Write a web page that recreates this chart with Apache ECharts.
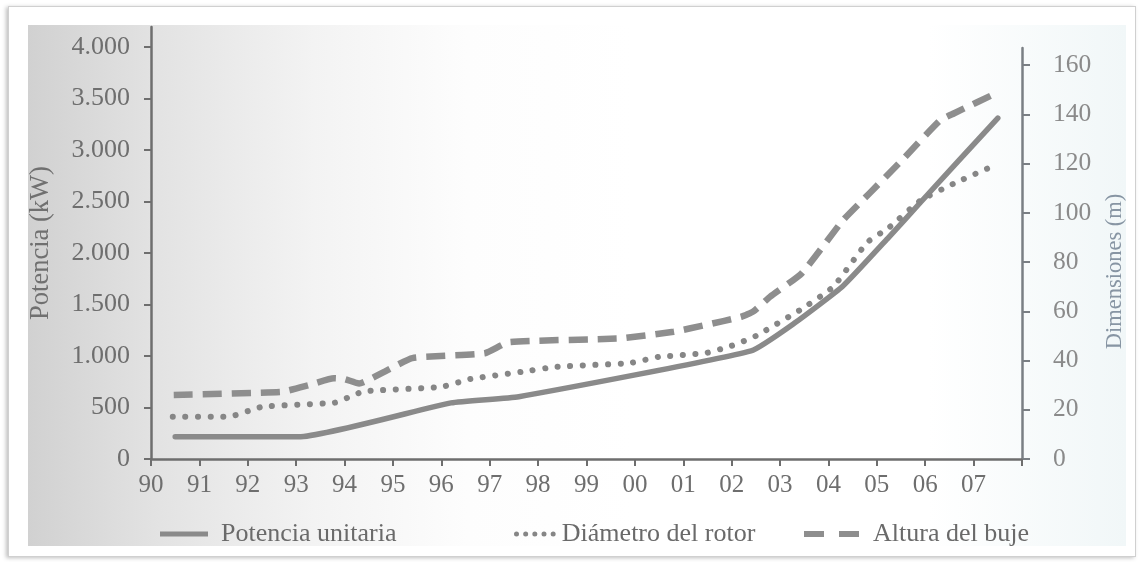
<!DOCTYPE html>
<html>
<head>
<meta charset="utf-8">
<script src="https://cdn.jsdelivr.net/npm/echarts@6/dist/echarts.min.js"></script>
<style>
  html, body { margin: 0; padding: 0; width: 1144px; height: 562px; background: #ffffff; overflow: hidden; }
  #frame { position: absolute; left: 8px; top: 6px; width: 1126px; height: 549px; border: 1px solid #d0d0d0; box-shadow: -2px 1px 4px rgba(0,0,0,0.25); background: #fff; }
  #page { position: absolute; left: 28px; top: 25px; width: 1098px; height: 521px;
          background: linear-gradient(90deg, #d1d1d1 0%, #e3e3e3 12%, #f3f3f3 26%, #fdfdfd 40%, #ffffff 55%, #ffffff 82%, #f1f7f8 100%); }
  #chart { position: absolute; left: 0; top: 0; width: 1144px; height: 562px; }
</style>
</head>
<body>
<div id="frame"></div>
<div id="page"></div>
<div id="chart"></div>
<script>
// Year tick labels (x axis positions 0..17)
const years = ['90','91','92','93','94','95','96','97','98','99','00','01','02','03','04','05','06','07'];

// Potencia unitaria (kW) — x positions in years since 1990
const potenciaX = [0.5, 3.05, 6.2, 7.6, 12.4, 13.3, 14.3, 15.25, 15.9, 17.5];
const potenciaY = [215, 215, 545, 605, 1050, 1320, 1680, 2155, 2490, 3310];

// Diámetro del rotor (m)
const diametroX = [0.45, 1.6, 2.3, 3.8, 4.1, 4.4, 6.0, 6.6, 7.7, 8.4, 9.9, 10.5, 11.45, 12.0, 12.5, 13.45, 14.1, 14.8, 15.25, 15.9, 16.6, 17.4];
const diametroY = [17.2, 17.2, 21.2, 22.9, 25.2, 27.5, 29.3, 32.5, 35.5, 37.5, 39, 41.5, 43, 46, 50, 61, 70, 88, 94, 105, 112, 119];

// Altura del buje (m)
const alturaX = [0.47, 2.7, 3.26, 3.78, 4.0, 4.3, 4.83, 5.4, 6.9, 7.4, 9.7, 10.8, 11.45, 12.2, 12.45, 12.8, 13.45, 14.3, 14.85, 15.5, 16.3, 16.6, 17.5];
const alturaY = [26, 27.3, 30, 32.8, 32.5, 30.7, 35.5, 41, 43, 47.5, 49, 51.7, 54.4, 57.8, 60, 66, 75.5, 97, 108, 121, 137.5, 140.5, 149];

// Axis tick values
const kwTicks = [0, 500, 1000, 1500, 2000, 2500, 3000, 3500, 4000];
const mTicks = [0, 20, 40, 60, 80, 100, 120, 140, 160];

const zip = (xs, ys) => xs.map((x, i) => [x, ys[i]]);
const fmtKw = v => v >= 1000 ? Math.floor(v / 1000) + '.' + String(v % 1000).padStart(3, '0') : String(v);

const lineColor = '#8e8e8e';
const axisColor = '#6e6e6e';
const font = '"Liberation Serif", "DejaVu Serif", serif';

// legend icon shapes
const iconSolid = 'path://M0,0H48V5H0Z';
const iconDots = 'path://M0,3a3,3 0 1,0 6,0a3,3 0 1,0 -6,0Z M11,3a3,3 0 1,0 6,0a3,3 0 1,0 -6,0Z M22,3a3,3 0 1,0 6,0a3,3 0 1,0 -6,0Z M33,3a3,3 0 1,0 6,0a3,3 0 1,0 -6,0Z M44,3a3,3 0 1,0 6,0a3,3 0 1,0 -6,0Z';
const iconDash = 'path://M0,0H20V6H0Z M35,0H55V6H35Z';

const legendText = { fontSize: 26, color: '#6a6a6a', fontFamily: font };

const chart = echarts.init(document.getElementById('chart'), null, { renderer: 'canvas' });
chart.setOption({
  backgroundColor: 'transparent',
  animation: false,
  textStyle: { fontFamily: font },
  grid: [
    { left: 151, right: 122, top: 27, bottom: 103 },
    { left: 151, right: 122, top: 48, bottom: 103 }
  ],
  legend: [
    { left: 155, top: 516, itemWidth: 48, itemHeight: 5, data: [{ name: 'Potencia unitaria', icon: iconSolid }],
      textStyle: Object.assign({ padding: [0, 0, 0, 8] }, legendText) },
    { left: 509, top: 516, itemWidth: 50, itemHeight: 5, data: [{ name: 'Diámetro del rotor', icon: iconDots }],
      textStyle: Object.assign({ padding: [0, 0, 0, -3] }, legendText) },
    { left: 799, top: 516, itemWidth: 55, itemHeight: 6, data: [{ name: 'Altura del buje', icon: iconDash }],
      textStyle: Object.assign({ padding: [0, 0, 0, 9] }, legendText) }
  ],
  xAxis: [
    {
      type: 'value', gridIndex: 0, min: 0, max: 18, interval: 1,
      axisLine: { show: true, onZero: false, lineStyle: { color: axisColor, width: 2.5 } },
      axisTick: { show: true, inside: false, length: 7, lineStyle: { color: axisColor, width: 2 } },
      splitLine: { show: false },
      axisLabel: { fontSize: 25, color: '#6e6e6e', margin: 14, fontFamily: font,
        formatter: v => (years[v] !== undefined ? years[v] : '') }
    },
    {
      type: 'value', gridIndex: 1, min: 0, max: 18, show: false
    }
  ],
  yAxis: [
    {
      type: 'value', gridIndex: 0, position: 'left', min: 0, max: 4194,
      name: 'Potencia (kW)', nameLocation: 'middle', nameRotate: 90, nameGap: 96,
      nameTextStyle: { fontSize: 26.5, color: '#707070', fontFamily: font },
      axisLine: { show: true, onZero: false, lineStyle: { color: axisColor, width: 2.5 } },
      axisTick: { show: true, length: 7, customValues: kwTicks, lineStyle: { color: axisColor, width: 2 } },
      axisLabel: { fontSize: 26, color: '#6e6e6e', margin: 21, fontFamily: font, customValues: kwTicks, formatter: fmtKw },
      splitLine: { show: false }
    },
    {
      type: 'value', gridIndex: 1, position: 'right', min: 0, max: 167,
      name: 'Dimensiones (m)', nameLocation: 'middle', nameRotate: 90, nameGap: 82,
      nameTextStyle: { fontSize: 22.5, color: '#8795a3', fontFamily: font, padding: [0, 36, 0, 0] },
      axisLine: { show: true, onZero: false, lineStyle: { color: '#7a7f84', width: 2.5 } },
      axisTick: { show: true, length: 8, customValues: mTicks, lineStyle: { color: '#7a7f84', width: 2 } },
      axisLabel: { fontSize: 25.5, color: '#8a8a8a', margin: 31, fontFamily: font, customValues: mTicks },
      splitLine: { show: false }
    }
  ],
  series: [
    {
      name: 'Potencia unitaria', type: 'line', xAxisIndex: 0, yAxisIndex: 0,
      data: zip(potenciaX, potenciaY), symbol: 'none', smooth: 0.15,
      lineStyle: { color: '#8a8a8a', width: 5.5, type: 'solid', cap: 'round', join: 'round' },
      itemStyle: { color: '#8a8a8a' }
    },
    {
      name: 'Diámetro del rotor', type: 'line', xAxisIndex: 1, yAxisIndex: 1,
      data: zip(diametroX, diametroY), symbol: 'none', smooth: 0.15,
      lineStyle: { color: '#868686', width: 6, type: [0.1, 12.5], cap: 'round', join: 'round' },
      itemStyle: { color: '#868686' }
    },
    {
      name: 'Altura del buje', type: 'line', xAxisIndex: 1, yAxisIndex: 1,
      data: zip(alturaX, alturaY), symbol: 'none', smooth: 0.15,
      lineStyle: { color: lineColor, width: 6.5, type: [19, 10], cap: 'butt', join: 'round' },
      itemStyle: { color: lineColor }
    }
  ]
});
</script>
</body>
</html>
